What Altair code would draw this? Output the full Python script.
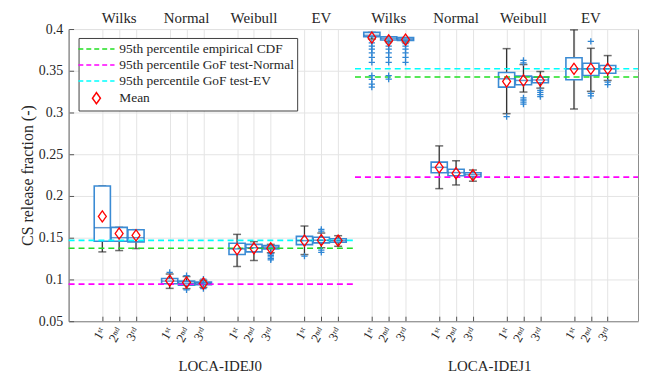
import altair as alt
import pandas as pd

# ---------------- data ----------------
slots = [1, 2, 3, 5, 6, 7, 9, 10, 11, 13, 14, 15,
         17, 18, 19, 21, 22, 23, 25, 26, 27, 29, 30, 31]

q1 = [0.1457, 0.1457, 0.1450, 0.0949, 0.0930, 0.0937, 0.1298, 0.1330, 0.1366, 0.1417, 0.1438, 0.1445,
      0.3908, 0.3869, 0.3864, 0.2279, 0.2243, 0.2231, 0.3304, 0.3333, 0.3356, 0.3393, 0.3444, 0.3471]
q3 = [0.2120, 0.1624, 0.1596, 0.1012, 0.0980, 0.0968, 0.1433, 0.1420, 0.1405, 0.1516, 0.1505, 0.1488,
      0.3960, 0.3908, 0.3897, 0.2406, 0.2320, 0.2279, 0.3480, 0.3436, 0.3424, 0.3655, 0.3590, 0.3563]
med = [0.1620, 0.1500, 0.1500, 0.0980, 0.0955, 0.0950, 0.1366, 0.1380, 0.1385, 0.1465, 0.1470, 0.1465,
       0.3925, 0.3890, 0.3880, 0.2343, 0.2280, 0.2255, 0.3404, 0.3384, 0.3390, 0.3523, 0.3523, 0.3523]
wlo = [0.1330, 0.1346, 0.1370, 0.0893, 0.0890, 0.0905, 0.1155, 0.1227, 0.1320, 0.1298, 0.1380, 0.1397,
       0.3880, 0.3850, 0.3845, 0.2088, 0.2132, 0.2177, 0.2986, 0.3245, 0.3292, 0.3042, 0.3253, 0.3384]
whi = [0.2120, 0.1624, 0.1596, 0.1065, 0.1035, 0.0990, 0.1540, 0.1453, 0.1420, 0.1640, 0.1556, 0.1524,
       0.3960, 0.3908, 0.3897, 0.2600, 0.2422, 0.2311, 0.3765, 0.3575, 0.3491, 0.3990, 0.3769, 0.3682]
means = [0.1755, 0.1550, 0.1528, 0.0985, 0.0964, 0.0952, 0.1362, 0.1373, 0.1373, 0.1465, 0.1470, 0.1465,
         0.3897, 0.3864, 0.3873, 0.2343, 0.2272, 0.2248, 0.3372, 0.3384, 0.3384, 0.3523, 0.3523, 0.3523]
outliers = [
    [], [], [],
    [0.1085], [0.1045, 0.0875], [0.1005, 0.0890],
    [], [], [0.1310, 0.1290, 0.1270, 0.1250, 0.1235],
    [0.1280], [0.1600, 0.1580, 0.1350, 0.1325], [],
    [0.3835, 0.3795, 0.376, 0.3714, 0.366, 0.360, 0.3443, 0.3396, 0.334, 0.3304],
    [0.3835, 0.3795, 0.376, 0.3714, 0.366, 0.360, 0.3443, 0.340],
    [0.3825, 0.3795, 0.376, 0.3714, 0.366, 0.360],
    [], [], [],
    [0.2950], [0.3625, 0.3595, 0.3175, 0.3150, 0.3125, 0.3100],
    [0.3265, 0.3240, 0.3215, 0.3190],
    [], [0.3852, 0.3230, 0.3200], [0.3364, 0.3335],
]

methods = ["Wilks", "Normal", "Weibull", "EV", "Wilks", "Normal", "Weibull", "EV"]
method_slots = [2, 6, 10, 14, 18, 22, 26, 30]
cases = ["LOCA-IDEJ0", "LOCA-IDEJ1"]
case_slots = [8, 24]

ref_series = ["95th percentile empirical CDF", "95th percentile GoF test-Normal", "95th percentile GoF test-EV"]
ref_colors = ["#22e022", "#ff00ff", "#00ffff"]
ref_idej0 = [0.1373, 0.0944, 0.1468]
ref_idej1 = [0.3425, 0.2226, 0.3524]
case_start = [-1, 16]
case_end = [16, 32.8]

# ---------------- tables ----------------
box_df = pd.DataFrame({"x": slots, "q1": q1, "q3": q3, "med": med,
                       "wlo": wlo, "whi": whi, "mean": means})
box_df["series"] = "Mean"
out_df = pd.DataFrame([{"x": s, "v": v} for s, vals in zip(slots, outliers) for v in vals])
ref_rows = []
for i, name in enumerate(ref_series):
    ref_rows.append({"series": name, "x1": case_start[0], "x2": case_end[0], "v": ref_idej0[i]})
    ref_rows.append({"series": name, "x1": case_start[1], "x2": case_end[1], "v": ref_idej1[i]})
ref_df = pd.DataFrame(ref_rows)
meth_df = pd.DataFrame({"x": method_slots, "label": methods})
case_df = pd.DataFrame({"x": case_slots, "label": cases})

FONT = "Times New Roman, serif"
W, H = 573, 294
LINE_PATH = "M-2.6,0H2.6"
DIAMOND = "M0,-0.8L0.57,0L0,0.8L-0.57,0Z"
PLUS = "M-1,0H1M0,-1V1"
BLUE = "#3b8bd4"

series_domain = ref_series + ["Mean"]
xscale = alt.Scale(domain=[-1, 32.8], nice=False, zero=False)
yscale = alt.Scale(domain=[0.05, 0.4], nice=False, zero=False)

xaxis = alt.Axis(values=slots, title=None, grid=True, gridColor="#e4e4e4",
                 labelExpr="['1ˢᵗ','2ⁿᵈ','3ʳᵈ'][(datum.value - 1) % 4]",
                 labelAngle=300, labelAlign="right", labelBaseline="middle",
                 labelFont=FONT, labelFontSize=13, labelColor="#262626",
                 labelOverlap={"expr": "false"}, labelFlush=False,
                 labelPadding=12, tickSize={"expr": "-5"}, tickColor="#555",
                 domainColor="#8c8c8c")
yaxis = alt.Axis(values=[0.05, 0.1, 0.15, 0.2, 0.25, 0.3, 0.35, 0.4], format=".2~f",
                 title="CS release fraction (-)", titleFont=FONT, titleFontSize=16,
                 titleFontWeight="normal", titleColor="#262626", titlePadding=3,
                 grid=True, gridColor="#e4e4e4", labelFont=FONT, labelFontSize=14,
                 labelColor="#262626", labelPadding=11, tickSize={"expr": "-5"},
                 labelFlush=False,
                 tickColor="#555", domainColor="#8c8c8c")

color_scale = alt.Scale(domain=series_domain, range=ref_colors + ["#ff0000"])
shape_scale = alt.Scale(domain=series_domain, range=[LINE_PATH, LINE_PATH, LINE_PATH, DIAMOND])
dash_scale = alt.Scale(domain=series_domain, range=[[5, 3], [5, 3], [5, 3], [1, 0]])
leg = alt.Legend(
    title=None, orient="none", legendX=10, legendY=9, direction="vertical",
    symbolType=LINE_PATH, symbolSize=196, symbolStrokeWidth=1.5,
    symbolOffset=7, labelOffset=15, labelFont=FONT, labelFontSize=13.5,
    labelColor="#262626", labelLimit=400, strokeColor="#404040", fillColor="white",
    padding=3, rowPadding=1.2, symbolFillColor="transparent",
)

X = alt.X("x:Q", scale=xscale, axis=xaxis)

whiskers = alt.Chart(box_df).mark_rule(color="#333333", strokeWidth=1.3).encode(
    x=X, y=alt.Y("wlo:Q", scale=yscale, axis=yaxis), y2="whi:Q")
caps_lo = alt.Chart(box_df).mark_tick(orient="horizontal", size=8, thickness=1.5, color="#333333").encode(
    x=X, y=alt.Y("wlo:Q", scale=yscale))
caps_hi = alt.Chart(box_df).mark_tick(orient="horizontal", size=8, thickness=1.5, color="#333333").encode(
    x=X, y=alt.Y("whi:Q", scale=yscale))
boxes = alt.Chart(box_df).transform_calculate(
    xl="datum.x - 0.48", xr="datum.x + 0.48"
).mark_rect(fill="white", stroke=BLUE, strokeWidth=1.6).encode(
    x=alt.X("xl:Q", scale=xscale, axis=xaxis), x2="xr:Q", y=alt.Y("q1:Q", scale=yscale), y2="q3:Q")
refs = alt.Chart(ref_df).mark_rule(strokeDash=[6, 4], strokeWidth=1.6).encode(
    x=alt.X("x1:Q", scale=xscale, axis=xaxis), x2="x2:Q", y=alt.Y("v:Q", scale=yscale),
    color=alt.Color("series:N", scale=color_scale, legend=leg))
medians = alt.Chart(box_df).mark_tick(orient="horizontal", size=16, thickness=1.5, color="#1f6fbf").encode(
    x=X, y=alt.Y("med:Q", scale=yscale))
outs = alt.Chart(out_df).mark_point(shape=PLUS, size=40, filled=False, strokeWidth=1.3, color="#2f86d4", opacity=1).encode(
    x=X, y=alt.Y("v:Q", scale=yscale))
mean_pts = alt.Chart(box_df).mark_point(size=196, filled=False, strokeWidth=1.3, opacity=1).encode(
    x=X, y=alt.Y("mean:Q", scale=yscale),
    color=alt.Color("series:N", scale=color_scale, legend=leg),
    shape=alt.Shape("series:N", scale=shape_scale, legend=leg),
    strokeDash=alt.StrokeDash("series:N", scale=dash_scale, legend=leg))
top_txt = alt.Chart(meth_df).mark_text(font=FONT, fontSize=15, color="#262626", baseline="middle").encode(
    x=X, y=alt.value(-11), text="label:N")
case_txt = alt.Chart(case_df).mark_text(font=FONT, fontSize=15, color="#262626", baseline="middle").encode(
    x=X, y=alt.value(H + 45), text="label:N")

chart = alt.layer(
    whiskers, caps_lo, caps_hi, boxes, refs, medians, outs, mean_pts, top_txt, case_txt
).properties(
    width=W, height=H,
    padding={"left": 11, "top": 2, "right": 0, "bottom": 0},
    background="white",
).configure_view(stroke="#8c8c8c", strokeWidth=1).configure_axis(labelOverlap=False)

chart.save("out.html", embed_options={"renderer": "svg", "actions": False})
